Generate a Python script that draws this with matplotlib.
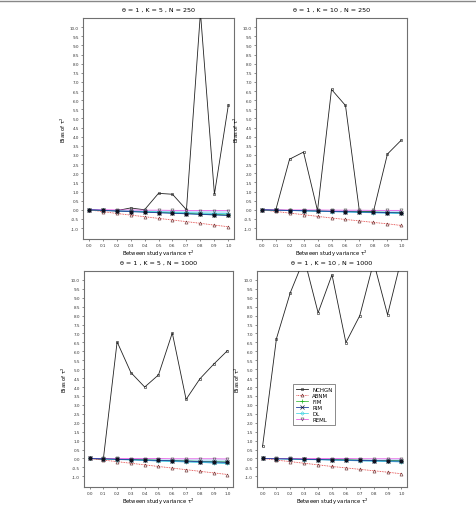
import numpy as np
import matplotlib
matplotlib.use("Agg")
import matplotlib.pyplot as plt
from matplotlib.lines import Line2D

tau2 = [0.0, 0.1, 0.2, 0.3, 0.4, 0.5, 0.6, 0.7, 0.8, 0.9, 1.0]
methods = ["NCHGN", "ABNM", "FIM", "RIM", "DL", "REML"]

titles = ["\u03b8 = 1 , K = 5 , N = 250", "\u03b8 = 1 , K = 10 , N = 250",
          "\u03b8 = 1 , K = 5 , N = 1000", "\u03b8 = 1 , K = 10 , N = 1000"]

# bias of tau^2 per panel, per method
nchgn = [
    [0.0, -0.05, -0.05, 0.1, 0.0, 0.9, 0.85, 0.0, 10.8, 0.85, 5.75],
    [0.0, -0.05, 2.77, 3.16, -0.05, 6.59, 5.71, -0.1, -0.1, 3.05, 3.82],
    [0.0, -0.05, 6.53, 4.81, 4.0, 4.68, 7.03, 3.31, 4.46, 5.28, 6.04],
    [0.67, 6.71, 9.29, 11.2, 8.16, 10.29, 6.49, 8.0, 11.0, 8.05, 11.2],
]
abnm = [
    [0.0, -0.1, -0.2, -0.29, -0.38, -0.47, -0.56, -0.65, -0.74, -0.84, -0.93],
    [0.0, -0.09, -0.18, -0.27, -0.36, -0.45, -0.53, -0.61, -0.69, -0.77, -0.86],
    [0.0, -0.09, -0.18, -0.27, -0.36, -0.45, -0.54, -0.63, -0.72, -0.81, -0.9],
    [0.0, -0.09, -0.18, -0.27, -0.36, -0.45, -0.53, -0.61, -0.69, -0.77, -0.86],
]
fim = [
    [0.0, -0.03, -0.06, -0.08, -0.11, -0.14, -0.17, -0.2, -0.23, -0.26, -0.29],
    [0.0, -0.02, -0.03, -0.05, -0.06, -0.08, -0.09, -0.11, -0.12, -0.14, -0.15],
    [0.0, -0.02, -0.04, -0.06, -0.08, -0.1, -0.12, -0.14, -0.16, -0.18, -0.2],
    [0.0, -0.01, -0.02, -0.04, -0.05, -0.06, -0.08, -0.09, -0.11, -0.12, -0.13],
]
rim = [
    [0.0, -0.03, -0.07, -0.1, -0.13, -0.16, -0.19, -0.22, -0.25, -0.28, -0.31],
    [0.0, -0.02, -0.04, -0.05, -0.07, -0.09, -0.1, -0.12, -0.14, -0.15, -0.17],
    [0.0, -0.02, -0.05, -0.07, -0.09, -0.11, -0.13, -0.15, -0.18, -0.2, -0.22],
    [0.0, -0.02, -0.03, -0.05, -0.06, -0.08, -0.09, -0.11, -0.12, -0.14, -0.15],
]
dl = [
    [0.0, -0.02, -0.05, -0.07, -0.09, -0.11, -0.13, -0.16, -0.18, -0.2, -0.22],
    [0.0, -0.02, -0.04, -0.06, -0.08, -0.1, -0.12, -0.14, -0.16, -0.18, -0.2],
    [0.0, -0.03, -0.06, -0.08, -0.11, -0.14, -0.17, -0.19, -0.22, -0.25, -0.28],
    [0.0, -0.02, -0.04, -0.06, -0.07, -0.09, -0.11, -0.13, -0.15, -0.17, -0.19],
]
reml = [
    [0.0, 0.0, -0.01, -0.01, -0.02, -0.02, -0.03, -0.03, -0.04, -0.04, -0.05],
    [0.0, 0.0, -0.01, -0.01, -0.01, -0.02, -0.02, -0.02, -0.03, -0.03, -0.03],
    [0.0, 0.0, 0.0, -0.01, -0.01, -0.01, -0.02, -0.02, -0.02, -0.02, -0.03],
    [0.0, 0.0, 0.0, -0.01, -0.01, -0.01, -0.01, -0.02, -0.02, -0.02, -0.02],
]

yticks = [i * 0.5 for i in range(-2, 21)]
xticks = tau2

fig = plt.figure(figsize=(4.77, 5.06), dpi=100)
W, H = 477.0, 506.0
# axes boxes in pixels: left, top, right, bottom
boxes = [(83, 19, 234, 240), (256, 19, 407, 240),
         (84, 272, 233, 488), (257, 272, 407, 488)]

for i, (l, t, r, b) in enumerate(boxes):
    ax = fig.add_axes([l / W, 1 - b / H, (r - l) / W, (b - t) / H])
    ax.fill_between(tau2, reml[i], dl[i], color="#bfe3f5", alpha=0.9, lw=0, zorder=1)
    ax.fill_between(tau2, dl[i], rim[i], color="#8cc3e8", alpha=0.9, lw=0, zorder=1)
    ax.plot(tau2, nchgn[i], color="#222222", lw=0.6, marker="o", ms=1.8,
            mfc="none", mew=0.4, zorder=3, label="NCHGN")
    ax.plot(tau2, abnm[i], color="#e03030", lw=0.6, ls=(0, (1, 1)), marker="^",
            ms=2.2, mfc="none", mec="#602020", mew=0.4, zorder=3, label="ABNM")
    ax.plot(tau2, fim[i], color="#20b020", lw=0.5, marker="+", ms=2.5,
            mew=0.5, zorder=3, label="FIM")
    ax.plot(tau2, rim[i], color="#2040a0", lw=0.6, marker="x", ms=2.2,
            mew=0.5, mec="#101030", zorder=4, label="RIM")
    ax.plot(tau2, dl[i], color="#30d0e0", lw=0.5, marker="D", ms=1.8,
            mfc="none", mew=0.4, zorder=3, label="DL")
    ax.plot(tau2, reml[i], color="#e040e0", lw=0.5, marker="v", ms=2.2,
            mfc="none", mec="#505050", mew=0.4, zorder=3, label="REML")
    ax.plot(tau2, rim[i], ls="none", marker="o", ms=2.0, color="#101020", zorder=5)

    ax.set_xlim(-0.04, 1.04)
    ax.set_ylim(-1.6, 10.5)
    ax.set_xticks(xticks)
    ax.set_xticklabels([f"{v:.1f}" for v in xticks])
    ax.set_yticks(yticks)
    ax.set_yticklabels([f"{v:.1f}" for v in yticks])
    ax.tick_params(labelsize=3, length=1.5, width=0.4, pad=1.5, colors="#333333")
    for s in ax.spines.values():
        s.set_color("#707070")
        s.set_linewidth(0.8)
    ax.set_title(titles[i], fontsize=4.6, pad=5)
    ax.set_xlabel("Between study variance \u03c4$^2$", fontsize=3.8, labelpad=0.5)
    ax.set_ylabel("Bias of \u03c4$^2$", fontsize=3.8, labelpad=1.5)

    if i == 3:
        handles, labels = ax.get_legend_handles_labels()
        leg = ax.legend(handles[:6], labels[:6], loc="upper left",
                        bbox_to_anchor=(33 / 150, 1 - 110 / 216), fontsize=4,
                        frameon=True, fancybox=False, borderpad=0.5,
                        handlelength=2.2, labelspacing=0.2, handletextpad=0.8)
        leg.get_frame().set_edgecolor("#555555")
        leg.get_frame().set_linewidth(0.6)

fig.add_artist(Line2D([0, 1], [1 - 2 / H, 1 - 2 / H], color="#888888", lw=1.0))
fig.savefig("out.png", dpi=100)
